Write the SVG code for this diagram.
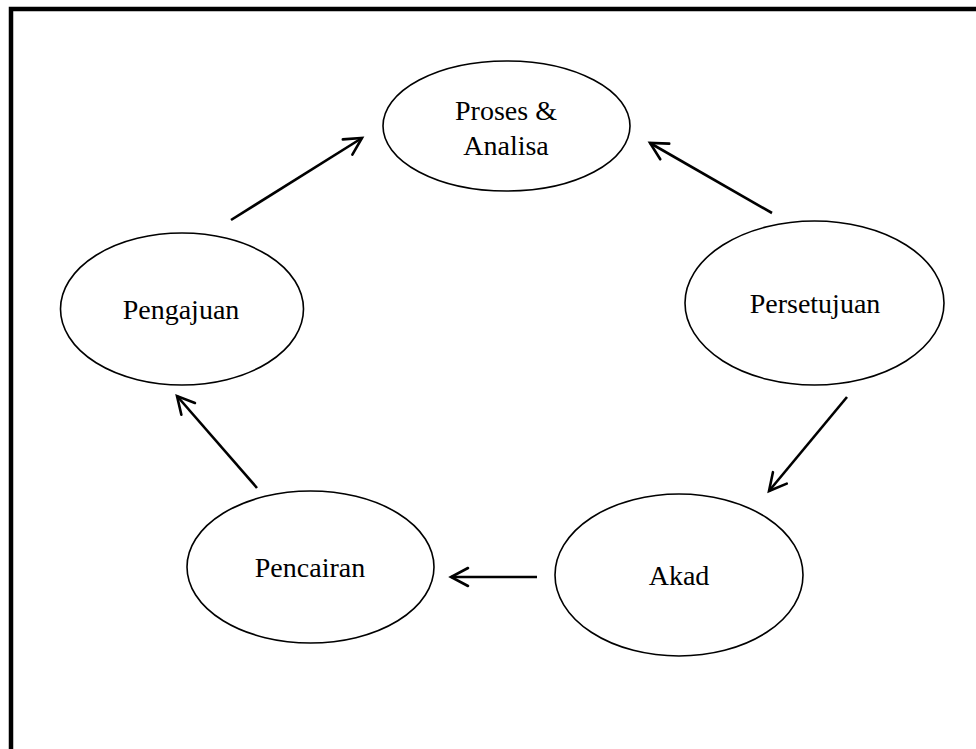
<svg xmlns="http://www.w3.org/2000/svg" width="976" height="749" viewBox="0 0 976 749">
<style>
.frame{fill:none;stroke:#000;stroke-width:4.5}
.node ellipse{fill:#fff;stroke:#000;stroke-width:1.6}
.node text{font-family:"Liberation Serif","Times New Roman",serif;font-size:28px;fill:#000;text-anchor:middle}
.conn line{stroke:#000;stroke-width:2.6;fill:none;marker-end:url(#arr)}
</style>
<defs>
<marker id="arr" markerUnits="userSpaceOnUse" markerWidth="24" markerHeight="24" viewBox="-20 -12 24 24" refX="0" refY="0" orient="auto">
<path d="M-17,-9 L0,0 L-17,9" fill="none" stroke="#000" stroke-width="2.6" stroke-linecap="round" stroke-linejoin="miter"/>
</marker>
</defs>
<rect width="976" height="749" fill="#fff"/>
<path class="frame" d="M11,749 L11,9 L976,9"/>
<g class="conn">
<line x1="231" y1="220" x2="362" y2="138"/>
<line x1="772" y1="213" x2="650" y2="143"/>
<line x1="847" y1="397" x2="769" y2="491"/>
<line x1="537" y1="577" x2="451" y2="577"/>
<line x1="257" y1="488" x2="177" y2="396"/>
</g>
<g id="proses" class="node">
<ellipse cx="506.5" cy="126" rx="123.5" ry="65"/>
<text x="506" y="120">Proses &amp;</text>
<text x="506" y="155">Analisa</text>
</g>
<g id="pengajuan" class="node">
<ellipse cx="182" cy="309" rx="121.5" ry="76"/>
<text x="181" y="319">Pengajuan</text>
</g>
<g id="persetujuan" class="node">
<ellipse cx="814.5" cy="303" rx="129.5" ry="82"/>
<text x="815" y="313">Persetujuan</text>
</g>
<g id="pencairan" class="node">
<ellipse cx="310.5" cy="567" rx="123.5" ry="76"/>
<text x="310" y="577">Pencairan</text>
</g>
<g id="akad" class="node">
<ellipse cx="679" cy="575" rx="124" ry="81"/>
<text x="679" y="585">Akad</text>
</g>
</svg>
